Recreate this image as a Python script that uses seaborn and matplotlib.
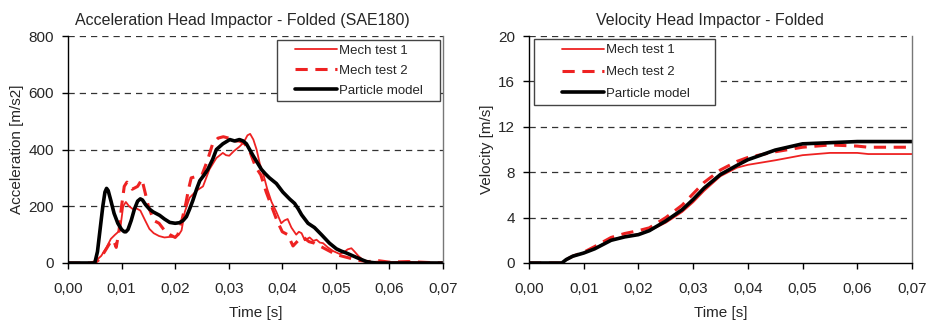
import numpy as np
import pandas as pd
import matplotlib
matplotlib.use("Agg")
import matplotlib.pyplot as plt
import seaborn as sns

# acceleration [m/s2]
acc_t1 = [0.0, 0.004, 0.0052, 0.0062, 0.0072, 0.0080, 0.0088, 0.0097, 0.0103, 0.0108, 0.0114, 0.0121, 0.0128, 0.0135, 0.0144, 0.0152, 0.0160, 0.0170, 0.0180, 0.019, 0.0200, 0.0207, 0.0212, 0.0218, 0.0227, 0.0240, 0.0252, 0.0264, 0.0277, 0.0289, 0.0295, 0.0301, 0.0310, 0.0320, 0.0328, 0.0335, 0.0340, 0.0346, 0.0352, 0.0358, 0.0365, 0.0372, 0.0380, 0.0389, 0.0398, 0.0404, 0.0410, 0.0417, 0.0426, 0.0431, 0.0436, 0.0442, 0.0451, 0.0458, 0.0464, 0.0470, 0.0476, 0.0485, 0.0495, 0.0507, 0.0515, 0.0522, 0.0529, 0.0535, 0.0542, 0.0551, 0.0563, 0.058, 0.06, 0.063, 0.066, 0.07]
acc_v1 = [0, 0, 8, 25, 55, 85, 100, 115, 200, 215, 200, 190, 192, 185, 150, 120, 105, 95, 90, 92, 92, 100, 115, 180, 230, 255, 270, 330, 370, 388, 380, 378, 395, 410, 425, 450, 455, 435, 400, 350, 310, 260, 215, 180, 140, 150, 155, 125, 100, 110, 105, 80, 90, 78, 82, 72, 70, 55, 42, 32, 38, 48, 52, 40, 25, 10, 3, 5, 3, 4, 2, 0]

acc_t2 = [0.0, 0.005, 0.006, 0.007, 0.0078, 0.0085, 0.009, 0.0095, 0.0100, 0.0105, 0.011, 0.0115, 0.012, 0.013, 0.0138, 0.0145, 0.015, 0.016, 0.017, 0.018, 0.019, 0.020, 0.0205, 0.021, 0.022, 0.0225, 0.023, 0.024, 0.025, 0.026, 0.027, 0.028, 0.029, 0.030, 0.031, 0.032, 0.033, 0.034, 0.035, 0.036, 0.037, 0.038, 0.039, 0.040, 0.041, 0.042, 0.043, 0.044, 0.045, 0.046, 0.047, 0.048, 0.049, 0.050, 0.052, 0.054, 0.056, 0.058, 0.060, 0.0635, 0.067, 0.07]
acc_v2 = [0, 0, 15, 45, 70, 80, 55, 110, 200, 270, 285, 270, 260, 270, 295, 240, 200, 150, 140, 115, 100, 90, 100, 130, 210, 260, 300, 305, 310, 360, 420, 440, 445, 440, 430, 430, 420, 390, 340, 310, 250, 200, 150, 110, 100, 60, 80, 90, 75, 70, 60, 50, 40, 30, 20, 10, 5, 8, 3, 5, 2, 0]

acc_tp = [0.0, 0.005, 0.0055, 0.0060, 0.0065, 0.0069, 0.0072, 0.0075, 0.0080, 0.0086, 0.0093, 0.0100, 0.0105, 0.0108, 0.0112, 0.0118, 0.0124, 0.0130, 0.0135, 0.0139, 0.0145, 0.0152, 0.0159, 0.0171, 0.0180, 0.0190, 0.0200, 0.0208, 0.0215, 0.0221, 0.0227, 0.0233, 0.0240, 0.0246, 0.0254, 0.0261, 0.0270, 0.0277, 0.0289, 0.0296, 0.0302, 0.0311, 0.0320, 0.0327, 0.0333, 0.0339, 0.0345, 0.0353, 0.0361, 0.0368, 0.0376, 0.0389, 0.0401, 0.0414, 0.0423, 0.0430, 0.0436, 0.0448, 0.046, 0.0473, 0.0488, 0.0501, 0.0510, 0.052, 0.0538, 0.0548, 0.0557, 0.0566, 0.0576, 0.07]
acc_vp = [0, 0, 40, 120, 200, 250, 263, 255, 220, 175, 140, 118, 110, 110, 118, 150, 190, 218, 226, 222, 205, 190, 180, 168, 155, 143, 140, 142, 150, 163, 190, 220, 260, 290, 310, 330, 365, 400, 420, 428, 435, 430, 435, 430, 420, 400, 380, 355, 330, 315, 300, 280, 250, 225, 210, 190, 170, 140, 125, 100, 70, 50, 42, 35, 20, 12, 5, 2, 0, 0]

# velocity [m/s]
vel_t = [0.0, 0.006, 0.0068, 0.008, 0.010, 0.012, 0.015, 0.0175, 0.020, 0.022, 0.025, 0.028, 0.030, 0.032, 0.035, 0.038, 0.040, 0.045, 0.050, 0.055, 0.060, 0.062, 0.070]
vel_v1 = [0, 0, 0.3, 0.6, 0.9, 1.3, 2.05, 2.35, 2.55, 2.85, 3.55, 4.5, 5.35, 6.35, 7.65, 8.4, 8.65, 9.05, 9.5, 9.7, 9.7, 9.6, 9.6]
vel_v2 = [0, 0, 0.3, 0.6, 0.95, 1.45, 2.25, 2.6, 2.85, 3.1, 4.0, 5.1, 6.1, 7.1, 8.2, 8.95, 9.3, 9.8, 10.2, 10.4, 10.3, 10.2, 10.2]
vel_vp = [0, 0, 0.3, 0.6, 0.88, 1.25, 2.0, 2.3, 2.5, 2.85, 3.7, 4.7, 5.6, 6.6, 7.8, 8.6, 9.1, 9.95, 10.5, 10.6, 10.7, 10.7, 10.7]

names = ["Mech test 1", "Mech test 2", "Particle model"]
x_ticks = [0.0, 0.01, 0.02, 0.03, 0.04, 0.05, 0.06, 0.07]

sns.set_theme(style="white")
plt.rcParams["font.family"] = ["Liberation Sans", "DejaVu Sans"]

RED = "#ee2222"
styles = [
    dict(color=RED, lw=1.3, ls="-"),
    dict(color=RED, lw=2.2, ls=(0, (4, 2.5))),
    dict(color="black", lw=2.6, ls="-"),
]

fig = plt.figure(figsize=(9.26, 3.2), dpi=100)
ax1 = fig.add_axes([68 / 926, 1 - 263 / 320, 375 / 926, 227 / 320])
ax2 = fig.add_axes([529 / 926, 1 - 263 / 320, 383 / 926, 227 / 320])


def draw(ax, series, ymax, ystep, title, title_x, ylabel):
    for (t, v), name, st in zip(series, names, styles):
        df = pd.DataFrame({"t": t, "v": v})
        sns.lineplot(data=df, x="t", y="v", ax=ax, label=name, color=st["color"],
                     linewidth=st["lw"], linestyle=st["ls"], sort=False)
    ax.set_xlim(0, 0.07)
    ax.set_ylim(0, ymax)
    ax.set_xticks(x_ticks)
    ax.set_xticklabels([f"{x:.2f}".replace(".", ",") for x in x_ticks])
    yt = np.arange(0, ymax + ystep / 2, ystep)
    ax.set_yticks(yt)
    ax.set_yticklabels([f"{int(y)}" for y in yt])
    for y in yt[1:]:
        ax.axhline(y, color="#333333", lw=0.9, ls=(0, (5, 4)), zorder=0)
    ax.spines["top"].set_visible(False)
    ax.spines["left"].set_color("black")
    ax.spines["bottom"].set_color("black")
    ax.spines["right"].set_color("#777777")
    for s in ["left", "bottom", "right"]:
        ax.spines[s].set_linewidth(1.0)
    ax.tick_params(axis="both", direction="out", length=4, width=1, color="black",
                   labelsize=11, bottom=True, left=True)
    ax.tick_params(axis="x", pad=10)
    ax.tick_params(axis="y", pad=6)
    ax.set_title(title, fontsize=11.5, pad=8, x=title_x)
    ax.set_xlabel("Time [s]", fontsize=11, labelpad=7)
    ax.set_ylabel(ylabel, fontsize=11, labelpad=3)


draw(ax1, [(acc_t1, acc_v1), (acc_t2, acc_v2), (acc_tp, acc_vp)], 800, 200,
     "Acceleration Head Impactor - Folded (SAE180)", 0.464, "Acceleration [m/s2]")
draw(ax2, [(vel_t, vel_v1), (vel_t, vel_v2), (vel_t, vel_vp)], 20, 4,
     "Velocity Head Impactor - Folded", 0.473, "Velocity [m/s]")

# legend boxes: (x0, top, width) in axes fraction, row spacing, handle length, blank before handle
legend_cfg = [
    (ax1, (0.5565, 0.982, 0.4355), 0.57, 4.23, 0.247),
    (ax2, (0.013, 0.985, 0.4726), 0.72, 4.92, 0.354),
]
for ax, (x0, top, w), lsp, hlen, shift in legend_cfg:
    leg = ax.legend(loc="upper left", bbox_to_anchor=(x0, top, w, 0), mode="expand",
                    fontsize=9.5, frameon=True, fancybox=False, handlelength=hlen,
                    handletextpad=0.15, borderpad=0.36, labelspacing=lsp, borderaxespad=0)
    leg.get_frame().set_edgecolor("#444444")
    leg.get_frame().set_linewidth(1.0)
    leg.get_frame().set_alpha(1)
    for ln in leg.get_lines():
        xd = np.asarray(ln.get_xdata(), dtype=float)
        ln.set_xdata(np.linspace(xd[0] + (xd[-1] - xd[0]) * shift, xd[-1], len(xd)))

fig.savefig("out.png", dpi=100)
